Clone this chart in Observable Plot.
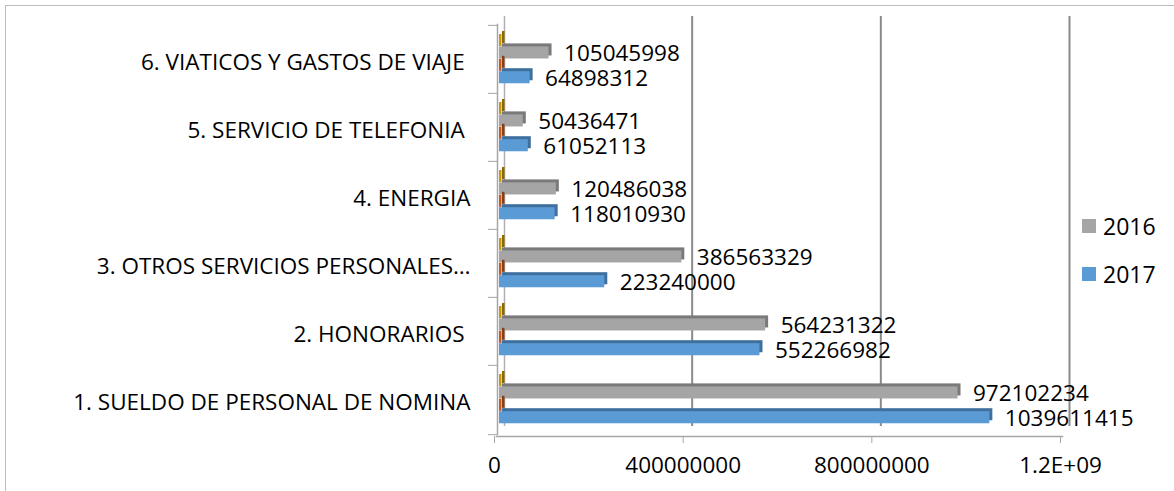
<!DOCTYPE html>
<html>
<head>
<meta charset="utf-8">
<script src="https://cdn.jsdelivr.net/npm/d3@7"></script>
<script src="https://cdn.jsdelivr.net/npm/@observablehq/plot@0.6"></script>
<style>
  html, body { margin: 0; padding: 0; background: #fff; }
  #wrap { position: relative; width: 1174px; height: 491px; overflow: hidden; font-family: "Open Sans", sans-serif; }
  #border { position: absolute; left: 5px; top: 5px; width: 1300px; height: 700px; border: 1px solid #bdbdbd; box-sizing: border-box; }
  #chart { position: absolute; left: 0; top: 0; }
  #legend { position: absolute; left: 1082px; top: 210px; font-size: 23px; color: #000; line-height: 32px; }
  #legend .item { display: flex; align-items: center; height: 32px; margin-bottom: 16px; }
  #legend .sw { width: 14px; height: 14px; margin-right: 7px; }
</style>
</head>
<body>
<div id="wrap">
  <div id="border"></div>
  <div id="chart"></div>
  <div id="legend"></div>
</div>
<script>
// ---- data ----
const categorias = [
  "1. SUELDO DE PERSONAL DE NOMINA",
  "2. HONORARIOS ",
  "3. OTROS SERVICIOS PERSONALES…",
  "4. ENERGIA",
  "5. SERVICIO DE TELEFONIA ",
  "6. VIATICOS Y GASTOS DE VIAJE "
];
const valores2017 = [1039611415, 552266982, 223240000, 118010930, 61052113, 64898312];
const valores2016 = [972102234, 564231322, 386563329, 120486038, 50436471, 105045998];
const serie3 = [0, 0, 0, 0, 0, 0];
const serie4 = [0, 0, 0, 0, 0, 0];
const xTicks = [0, 400000000, 800000000, 1200000000];
const legendSeries = ["2016", "2017"];

// ---- layout / style ----
const W = 1174, H = 491;
const mTop = 24, mBottom = 57, mLeft = 499, mRight = 109;
const bw = (H - mTop - mBottom) / categorias.length;
const barH = 12.4;
const ins = (bw - barH) / 2;
const FONT = "Open Sans";
const FS = 22.5;

const series = [
  {nombre: "Serie 4", valores: serie4, color: "#C9990C", lado: "#8C6A00", off: 9 + barH * 0.5, stub: true},
  {nombre: "2016", valores: valores2016, color: "#A5A5A5", lado: "#7A7A7A", off: 9 + barH * 1.5},
  {nombre: "Serie 3", valores: serie3, color: "#C55A1E", lado: "#8A3E14", off: 9 + barH * 2.5, stub: true},
  {nombre: "2017", valores: valores2017, color: "#5B9BD5", lado: "#3F6F9C", off: 9 + barH * 3.5}
];

const fmtTick = d => d >= 1e9
  ? d.toExponential(1).toUpperCase().replace(/E\+(\d)$/, "E+0$1")
  : d3.format("d")(d);

const marks = [];
// back-wall gridlines (the one at zero is the lighter back wall edge)
marks.push(Plot.ruleX(xTicks.filter(d => d > 0), {x: d => d, stroke: "#8a8a8a", strokeWidth: 2, dx: 4, dy: -8}));
marks.push(Plot.ruleX([xTicks[0]], {x: d => d, stroke: "#b0b0b0", strokeWidth: 1.5, dx: 5, dy: -8}));
// front floor & left wall lines
marks.push(Plot.frame({anchor: "bottom", stroke: "#a6a6a6", strokeWidth: 1.5, dx: -3, dy: 2}));
marks.push(Plot.frame({anchor: "left", stroke: "#a6a6a6", strokeWidth: 1.5, dx: -2, dy: 0}));
// left axis ticks at band boundaries
marks.push(Plot.axisY({anchor: "left", tickSize: 9, tickFormat: () => "", dx: -2, dy: -bw / 2, stroke: "#a6a6a6", label: null}));
marks.push(Plot.axisY([categorias[0]], {anchor: "left", tickSize: 9, tickFormat: () => "", dx: -2, dy: bw / 2 + 1, stroke: "#a6a6a6", label: null}));

for (const s of series) {
  const rows = categorias.map((c, i) => ({categoria: c, valor: s.valores[i], serie: s.nombre}));
  const dy = s.off - bw / 2;
  const ir = s.stub ? -2.5 : 0;
  marks.push(Plot.barX(rows, {x: "valor", y: "categoria", fill: s.lado, insetTop: ins, insetBottom: ins, insetRight: ir, dx: 3, dy: dy - 3}));
  marks.push(Plot.barX(rows, {x: "valor", y: "categoria", fill: s.color, insetTop: ins, insetBottom: ins, insetRight: ir, dy: dy}));
  if (!s.stub) {
    marks.push(Plot.text(rows, {x: "valor", y: "categoria", text: d => String(d.valor), dx: 15, dy: dy + 1,
      textAnchor: "start", fill: "#000", fontSize: FS, fontFamily: FONT}));
  }
}

// category axis labels
marks.push(Plot.axisY({anchor: "left", tickSize: 0, tickPadding: 29, dy: 3, label: null, fontSize: FS, fontFamily: FONT, fill: "#000"}));
// value axis (front)
marks.push(Plot.axisX({anchor: "bottom", ticks: xTicks, tickFormat: fmtTick, tickSize: 7, tickPadding: 14,
  dx: -5, dy: 2, stroke: "#a6a6a6", label: null, fontSize: FS, fontFamily: FONT, fill: "#000"}));

const chart = Plot.plot({
  width: W, height: H,
  marginTop: mTop, marginBottom: mBottom, marginLeft: mLeft, marginRight: mRight,
  style: {fontFamily: FONT, fontSize: FS + "px", background: "transparent", overflow: "visible", color: "#000"},
  x: {domain: [0, 1.2e9], axis: null},
  y: {domain: categorias.slice().reverse(), padding: 0, axis: null},
  marks
});
document.getElementById("chart").appendChild(chart);

// legend (2016 above 2017)
const colorOf = Object.fromEntries(series.map(s => [s.nombre, s.color]));
const leg = document.getElementById("legend");
for (const name of legendSeries) {
  const it = document.createElement("div");
  it.className = "item";
  const sw = document.createElement("span");
  sw.className = "sw";
  sw.style.background = colorOf[name];
  const tx = document.createElement("span");
  tx.textContent = name;
  it.appendChild(sw); it.appendChild(tx);
  leg.appendChild(it);
}
</script>
</body>
</html>
